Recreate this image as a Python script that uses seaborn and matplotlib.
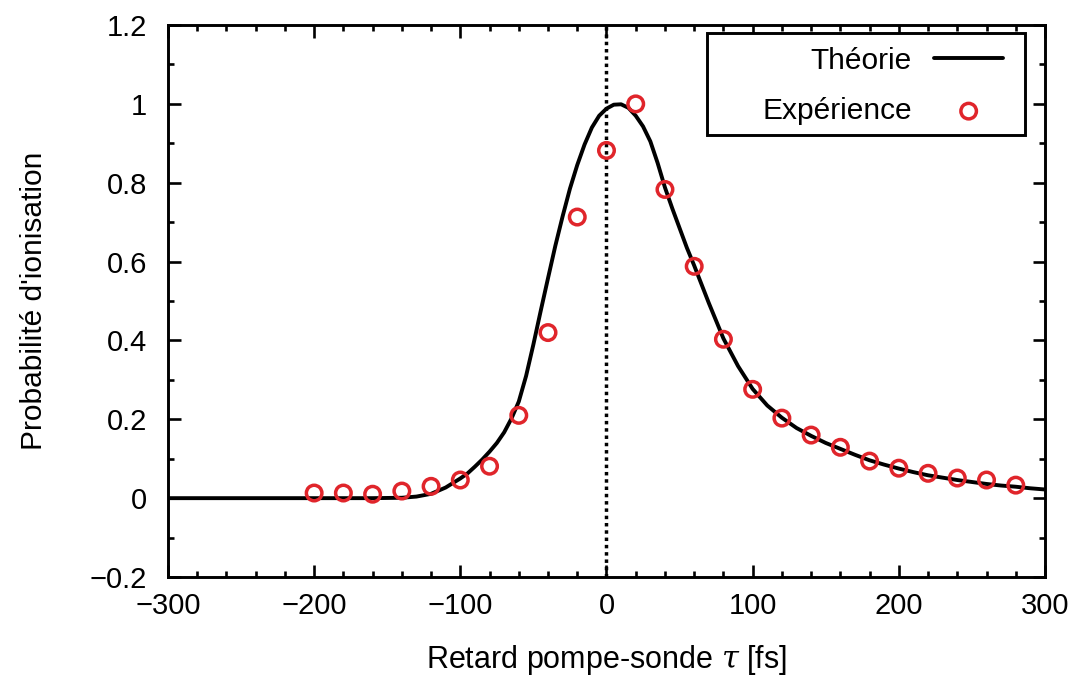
# Probabilité d'ionisation vs retard pompe-sonde (théorie + expérience)
import numpy as np
import pandas as pd
import matplotlib
matplotlib.use("Agg")
import matplotlib.pyplot as plt
from matplotlib.patches import Rectangle
from matplotlib.ticker import MultipleLocator, FuncFormatter
import seaborn as sns

# courbe théorique
theo_tau = [-300, -280, -260, -240, -220, -200, -180, -160, -150, -140, -130, -120, -110,
            -100, -95, -90, -85, -80, -75, -70, -65, -60, -55, -50, -45, -40, -35,
            -30, -25, -20, -15, -10, -5, 0, 5, 10, 15, 20, 25, 30, 35, 40, 45, 50,
            55, 60, 70, 80, 90, 100, 110, 120, 130, 140, 150, 160, 170, 180, 190,
            200, 210, 220, 230, 240, 250, 260, 270, 280, 290, 300]
theo_prob = [0, 0, 0, 0, 0, 0, 0, 0, 0.0005, 0.001, 0.004, 0.011, 0.027,
             0.05, 0.063, 0.08, 0.098, 0.118, 0.14, 0.167, 0.202, 0.245, 0.31, 0.39, 0.475, 0.558, 0.64,
             0.715, 0.785, 0.845, 0.897, 0.94, 0.97, 0.988, 0.998, 0.999, 0.99, 0.97, 0.943, 0.905, 0.85, 0.788, 0.735, 0.685,
             0.635, 0.59, 0.495, 0.405, 0.335, 0.277, 0.235, 0.204, 0.178, 0.158, 0.14, 0.125, 0.11, 0.096, 0.085,
             0.075, 0.066, 0.058, 0.052, 0.046, 0.041, 0.036, 0.032, 0.029, 0.025, 0.022]

# points expérimentaux
exp_tau = [-200, -180, -160, -140, -120, -100, -80, -60, -40, -20, 0, 20, 40,
           60, 80, 100, 120, 140, 160, 180, 200, 220, 240, 260, 280]
exp_prob = [0.013, 0.013, 0.01, 0.018, 0.03, 0.046, 0.081, 0.21, 0.42, 0.713, 0.882, 1.0, 0.783,
            0.588, 0.403, 0.276, 0.203, 0.16, 0.129, 0.094, 0.076, 0.063, 0.051, 0.046, 0.033]

theo = pd.DataFrame({"tau": theo_tau, "p": theo_prob})
expe = pd.DataFrame({"tau": exp_tau, "p": exp_prob})

sns.set_theme(style="ticks")
plt.rcParams["font.family"] = ["Liberation Sans", "DejaVu Sans"]
plt.rcParams["mathtext.fontset"] = "dejavuserif"
plt.rcParams["text.color"] = "black"
plt.rcParams["axes.labelcolor"] = "black"

fig = plt.figure(figsize=(10.74, 6.77), dpi=100)
ax = fig.add_axes([0.1564, 0.1477, 0.8166, 0.8153])

ax.axvline(0, color="black", linestyle=(0, (1, 1.1)), linewidth=2.5, zorder=1)
sns.lineplot(data=theo, x="tau", y="p", color="black", linewidth=2.8,
             label="Théorie", ax=ax, zorder=2)
sns.scatterplot(data=expe, x="tau", y="p", marker="o", s=125,
                facecolors="none", edgecolor="#e0252b", linewidth=2.5,
                label="Expérience", ax=ax, zorder=3)

ax.set_xlim(-300, 300)
ax.set_ylim(-0.2, 1.2)
ax.xaxis.set_major_locator(MultipleLocator(100))
ax.xaxis.set_minor_locator(MultipleLocator(20))
ax.yaxis.set_major_locator(MultipleLocator(0.2))
ax.yaxis.set_minor_locator(MultipleLocator(0.1))
fmt = FuncFormatter(lambda v, p: ("%g" % round(v, 3)).replace("-", "\u2212"))
ax.xaxis.set_major_formatter(fmt)
ax.yaxis.set_major_formatter(fmt)

ax.tick_params(which="both", direction="in", top=True, right=True,
               labelsize=21, colors="black", width=1.9)
ax.tick_params(which="major", length=9)
ax.tick_params(which="minor", length=4.5)
ax.tick_params(axis="x", which="major", pad=11)
ax.tick_params(axis="y", which="major", pad=15)
for sp in ax.spines.values():
    sp.set_linewidth(2.1)
    sp.set_color("black")

ax.set_xlabel(r"Retard pompe-sonde $\tau$ [fs]", fontsize=22, labelpad=16)
ax.set_ylabel("Probabilité d'ionisation", fontsize=21.5, labelpad=30)

# cadre de la légende (style gnuplot), contenu aligné à droite
ax.add_patch(Rectangle((0.6146, 0.8007), 0.977 - 0.6146, 0.9855 - 0.8007,
                       transform=ax.transAxes, facecolor="white", edgecolor="black",
                       linewidth=2.1, zorder=4))
leg = ax.legend(loc="upper right", bbox_to_anchor=(0.9521, 0.961), markerfirst=False,
                fontsize=21.5, frameon=False, borderpad=0, labelspacing=0.75,
                handlelength=2.3, handletextpad=0.75, borderaxespad=0)
leg.set_zorder(5)

fig.savefig("out.png", dpi=100)
